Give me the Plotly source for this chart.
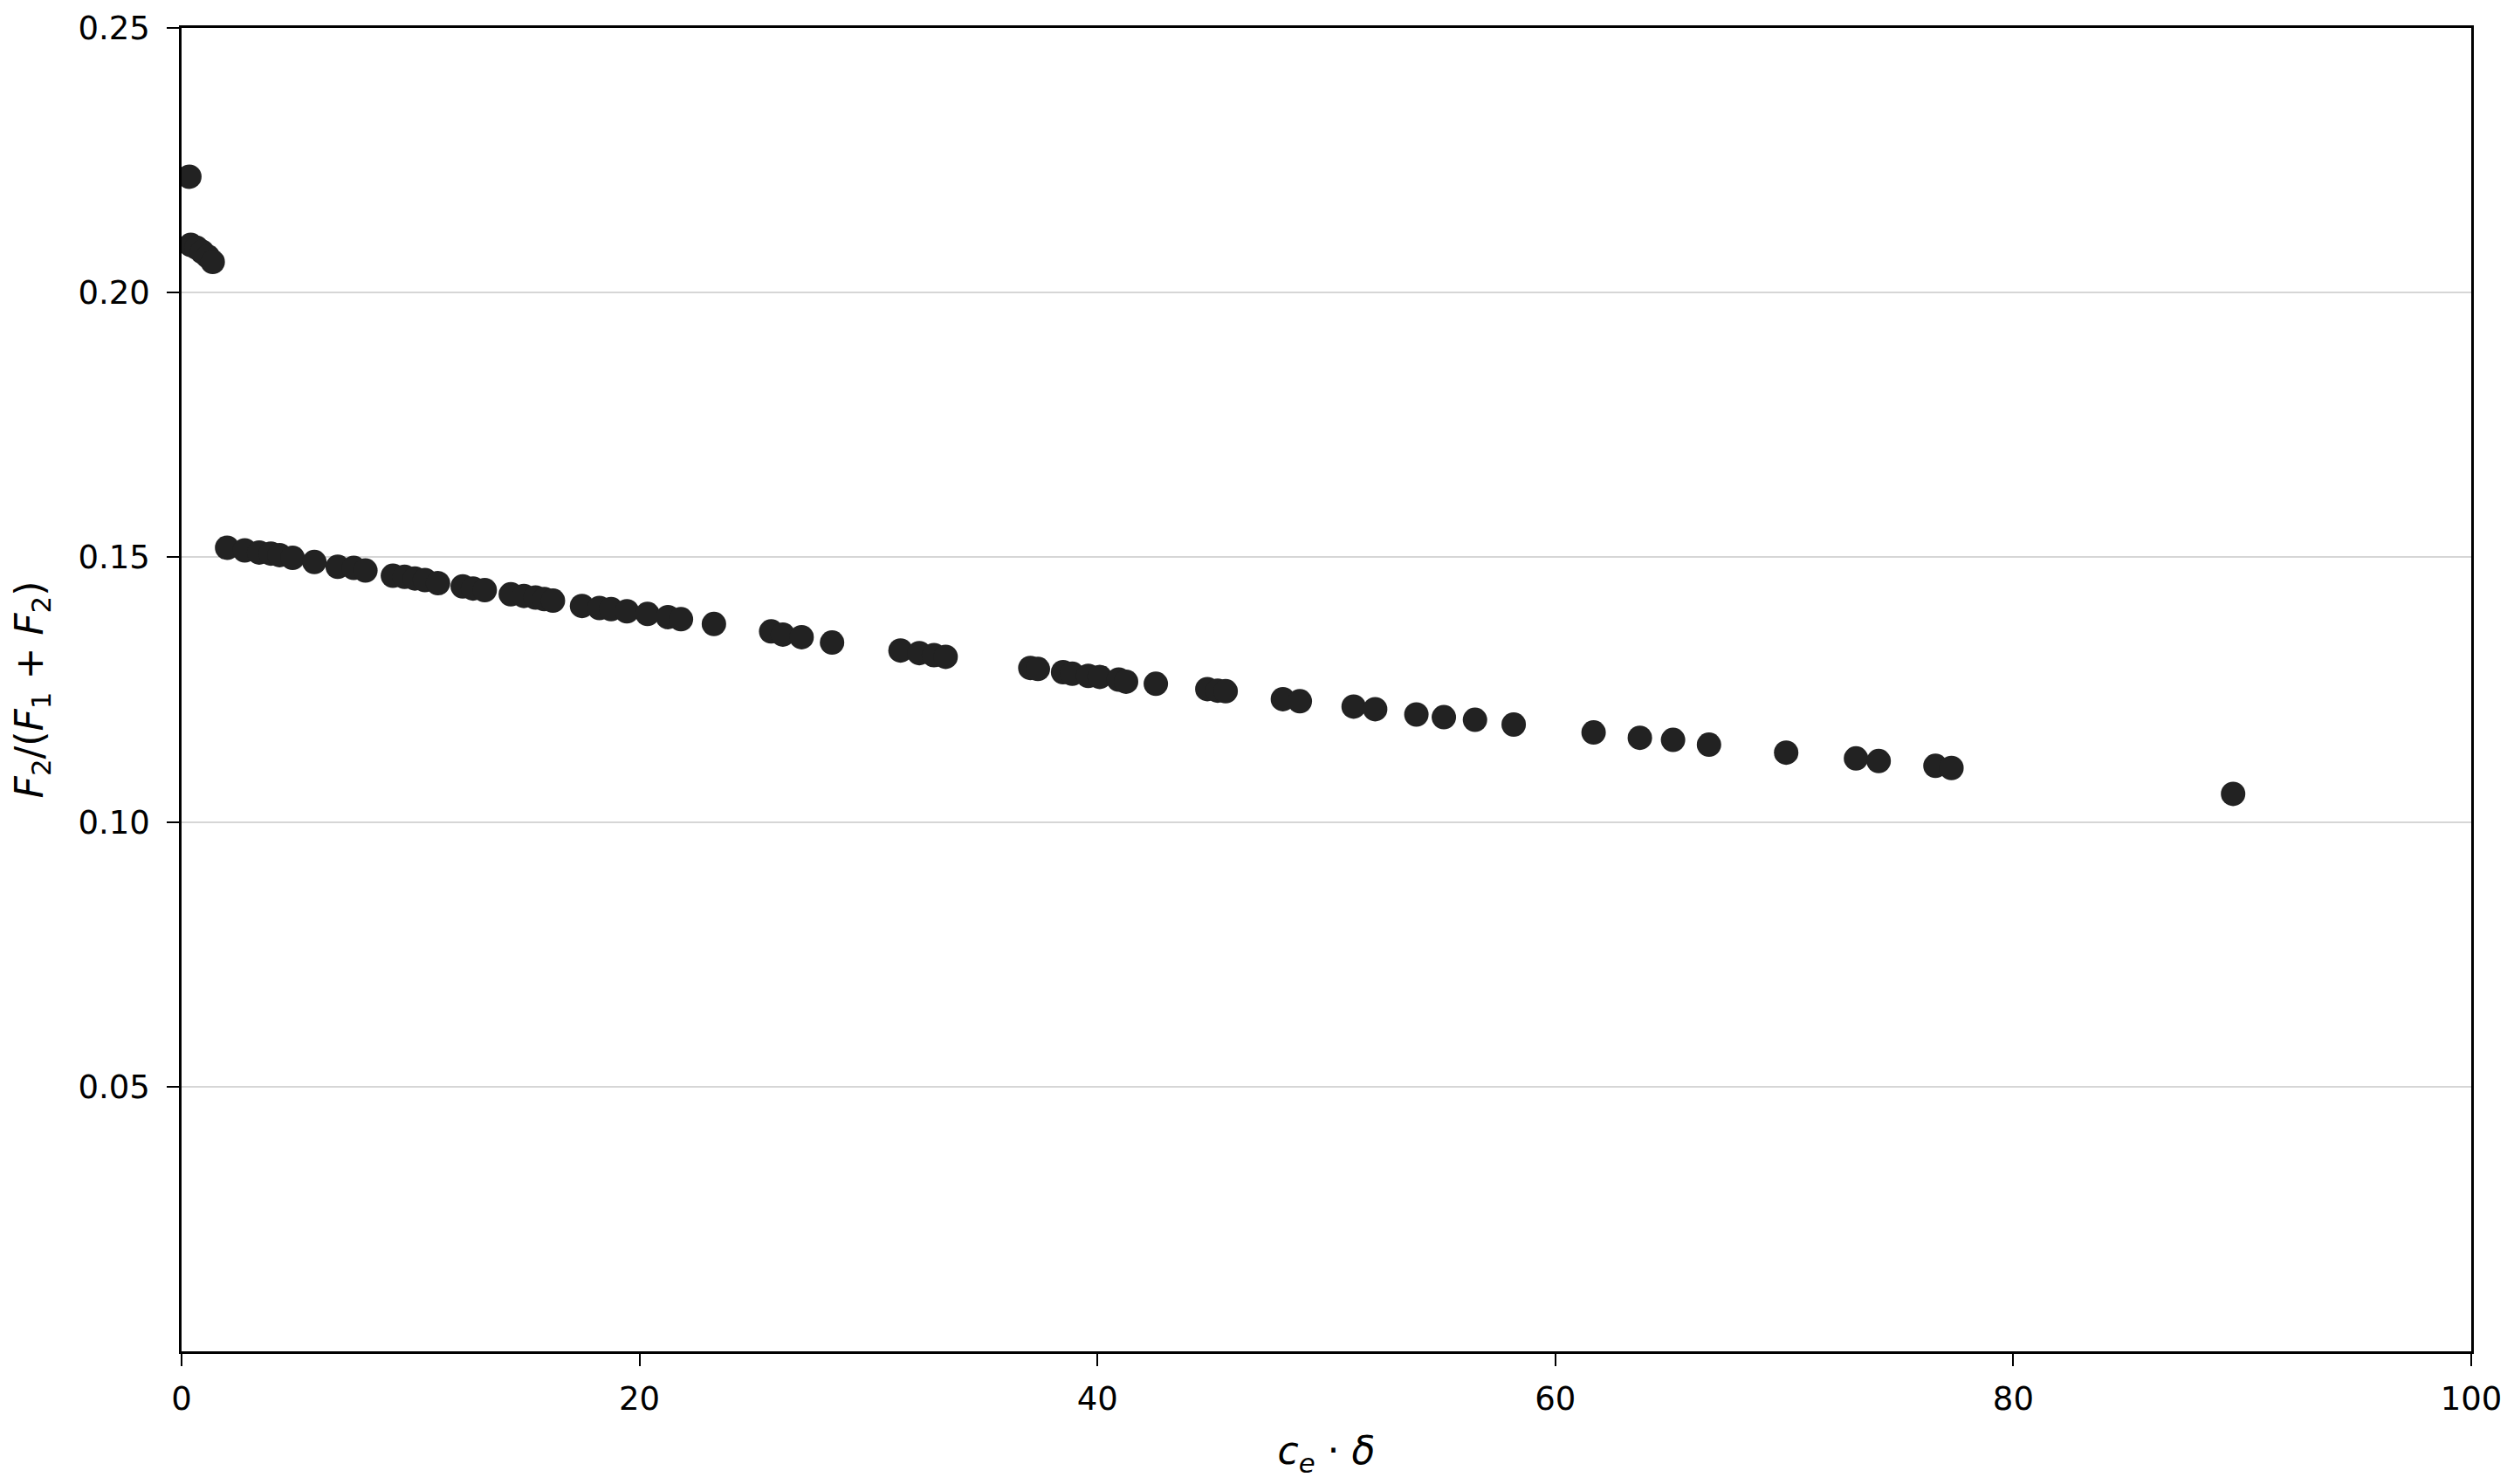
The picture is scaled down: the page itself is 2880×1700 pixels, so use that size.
import plotly.graph_objects as go

# c_e * delta values
ce_delta = [0.34, 0.40, 0.65, 0.90, 1.15, 1.36,
            1.99, 2.76, 3.39, 3.90, 4.28, 4.85, 5.80, 6.82, 7.52, 8.03,
            9.23, 9.74, 10.19, 10.63, 11.20, 12.28, 12.73, 13.24, 14.38, 14.95,
            15.46, 15.84, 16.22, 17.49, 18.25, 18.76, 19.45, 20.35, 21.24, 21.81,
            23.25, 25.75, 26.26, 27.08, 28.41, 31.40, 32.22, 32.86, 33.37,
            37.07, 37.40, 38.50, 38.90, 39.60, 40.10, 40.93, 41.25, 42.55,
            44.80, 45.25, 45.60, 48.10, 48.84, 51.19, 52.13, 53.93, 55.13, 56.49,
            58.18, 61.67, 63.69, 65.14, 66.71, 70.08, 73.13, 74.12, 76.60, 77.30,
            89.60]

# F2/(F1+F2) values
ratio = [0.2219, 0.2090, 0.2085, 0.2077, 0.2068, 0.2058,
         0.1518, 0.1513, 0.1509, 0.1507, 0.1504, 0.1499, 0.1491, 0.1482, 0.1480, 0.1475,
         0.1465, 0.1463, 0.1460, 0.1457, 0.1451, 0.1445, 0.1441, 0.1438, 0.1430, 0.1427,
         0.1424, 0.1421, 0.1418, 0.1408, 0.1404, 0.1402, 0.1398, 0.1393, 0.1387, 0.1383,
         0.1374, 0.1360, 0.1354, 0.1349, 0.1339, 0.1324, 0.1319, 0.1315, 0.1312,
         0.1291, 0.1289, 0.1283, 0.1280, 0.1276, 0.1274, 0.1269, 0.1265, 0.1261,
         0.1251, 0.1248, 0.1247, 0.1232, 0.1228, 0.1218, 0.1213, 0.1203, 0.1198, 0.1193,
         0.1184, 0.1169, 0.1159, 0.1155, 0.1146, 0.1131, 0.1120, 0.1115, 0.1106, 0.1102,
         0.1053]

y_ticks = [0.05, 0.10, 0.15, 0.20, 0.25]
x_ticks = [0, 20, 40, 60, 80, 100]

FONT = 'DejaVu Sans'

fig = go.Figure()
fig.add_trace(go.Scatter(x=ce_delta, y=ratio, mode='markers',
                         marker=dict(size=28, color='#222222', line=dict(width=0)),
                         showlegend=False))

# page body adds 8px, so margins are a bit smaller than the target plot box
fig.update_layout(
    width=2880, height=1700,
    paper_bgcolor='white', plot_bgcolor='white',
    margin=dict(l=200, r=57, t=24, b=160),
    font=dict(family=FONT, size=37, color='black'),
    xaxis=dict(range=[0, 100], tickvals=x_ticks, automargin=False,
               showline=True, mirror=True, linecolor='black', linewidth=2.5,
               ticks='outside', ticklen=14, tickwidth=2, tickcolor='black',
               ticklabelstandoff=6,
               showgrid=False, zeroline=False,
               title=dict(text='<i>c</i><sub><i>e</i></sub> · <i>δ</i>',
                          font=dict(size=44), standoff=24)),
    yaxis=dict(range=[0, 0.25], tickvals=y_ticks, tickformat='.2f', automargin=False,
               showline=True, mirror=True, linecolor='black', linewidth=2.5,
               ticks='outside', ticklen=14, tickwidth=2, tickcolor='black',
               ticklabelstandoff=12,
               showgrid=True, gridcolor='#d6d6d6', gridwidth=2, zeroline=False,
               title=dict(text='<i>F</i><sub>2</sub>/(<i>F</i><sub>1</sub> + <i>F</i><sub>2</sub>)',
                          font=dict(size=44), standoff=30)),
)

fig.write_html("out.html")
